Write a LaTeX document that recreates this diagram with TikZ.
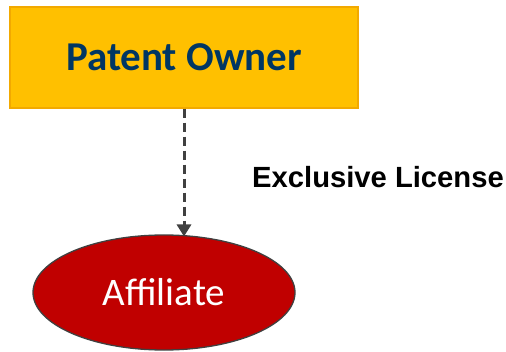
\documentclass[tikz,border=0pt]{standalone}
\usepackage{fontspec}
\setmainfont{Carlito}
\newfontfamily\arialfont{Liberation Sans}
\usetikzlibrary{arrows.meta,shapes.geometric}
\definecolor{boxfill}{HTML}{FFC000}
\definecolor{boxline}{HTML}{F2A900}
\definecolor{navy}{HTML}{003663}
\definecolor{ellfill}{HTML}{C00000}
\definecolor{darkline}{HTML}{404040}
\tikzset{
  ownerbox/.style={draw=boxline, line width=1.2pt, fill=boxfill, minimum width=348pt, minimum height=101pt, inner sep=0pt, font=\fontsize{41}{48}\selectfont\bfseries, text=navy},
  affbox/.style={ellipse, draw=darkline, line width=1.3pt, fill=ellfill, minimum width=262pt, minimum height=115pt, inner sep=0pt, font=\fontsize{39}{46}\selectfont, text=white},
  licarrow/.style={draw=darkline, line width=3pt, dash pattern=on 9pt off 5pt, -{Triangle[length=12pt,width=14pt]}},
  lbl/.style={font=\arialfont\fontsize{29.2}{34}\selectfont\bfseries, text=black, inner sep=0pt, anchor=west}
}
\begin{document}
\begin{tikzpicture}[x=1pt,y=1pt]
\useasboundingbox (0,0) rectangle (506,351);
\node[ownerbox] (owner) at (184,293.5) {Patent Owner};
\node[affbox] (aff) at (164,58.5) {Affiliate};
\coordinate (tip) at (184,114.5);
\draw[licarrow] (owner.south -| tip) -- (tip);
\node[lbl] (lic) at (252,174) {Exclusive License};
\end{tikzpicture}
\end{document}
